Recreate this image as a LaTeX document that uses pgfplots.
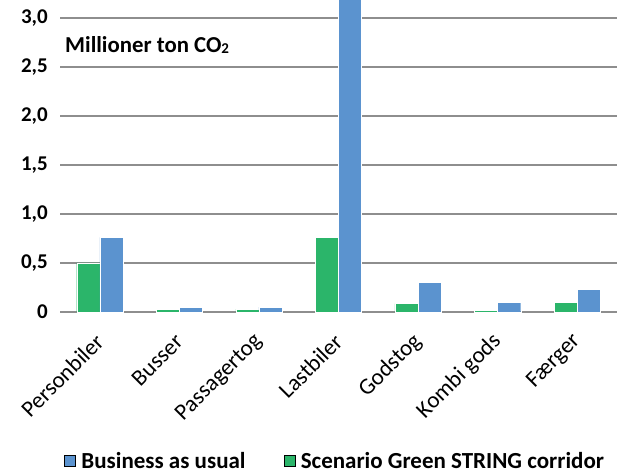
\documentclass[border=0pt]{standalone}
\usepackage{fontspec}
\setmainfont{Carlito}
\usepackage{pgfplots}
\pgfplotsset{compat=1.18}
\definecolor{bau}{HTML}{5B93CF}
\definecolor{gsc}{HTML}{2BB56A}
\definecolor{gridc}{HTML}{8E8E8E}
\begin{document}
\begin{tikzpicture}
\begin{axis}[
  scale only axis,
  width=557pt, height=312pt,
  xmin=-0.5, xmax=6.5,
  ymin=0, ymax=3.18,
  axis line style={draw=none},
  tick style={draw=none},
  ymajorgrids,
  grid style={gridc, line width=1.8pt},
  ytick={0,0.5,1,1.5,2,2.5,3},
  yticklabels={0,{0,5},{1,0},{1,5},{2,0},{2,5},{3,0}},
  yticklabel style={font=\fontsize{21}{24}\selectfont\bfseries, inner sep=0pt},
  yticklabel shift=12pt,
  xtick={0,1,2,3,4,5,6},
  xticklabels={Personbiler,Busser,Passagertog,Lastbiler,Godstog,Kombi gods,Færger},
  xticklabel style={font=\fontsize{23}{25}\selectfont, rotate=45, anchor=east, inner sep=0pt},
  xticklabel shift=26pt,
  clip=true,
  legend style={at={(0.494,-0.477)}, anchor=center, draw=none, legend columns=2,
    font=\fontsize{23}{26}\selectfont\bfseries,
    /tikz/every even column/.append style={column sep=36pt}},
  legend image code/.code={\fill[#1] (0pt,-5pt) rectangle (11pt,6pt); \path[draw=none,fill=none] (0pt,0pt) -- (15pt,0pt);},
]
\addlegendimage{fill=bau}
\addlegendentry{Business as usual}
\addlegendimage{fill=gsc}
\addlegendentry{Scenario Green STRING corridor}
\addplot[ybar, bar width=0.29, bar shift=-0.145, fill=gsc, draw=white, line width=0.4pt, forget plot]
  coordinates {(0,0.50) (1,0.03) (2,0.03) (3,0.76) (4,0.086) (5,0.017) (6,0.097)};
\addplot[ybar, bar width=0.29, bar shift=0.145, fill=bau, draw=white, line width=0.4pt, forget plot]
  coordinates {(0,0.76) (1,0.05) (2,0.05) (3,3.2) (4,0.30) (5,0.097) (6,0.23)};
\node[anchor=west, font=\fontsize{22.8}{25}\selectfont\bfseries, inner sep=0pt] at (rel axis cs:0.009,0.856) {Millioner ton CO{\fontsize{15}{16}\selectfont\raisebox{-1pt}{2}}};
\end{axis}
\pgfresetboundingbox
\path (-60pt,-161pt) rectangle (557pt,312pt);
\end{tikzpicture}
\end{document}
